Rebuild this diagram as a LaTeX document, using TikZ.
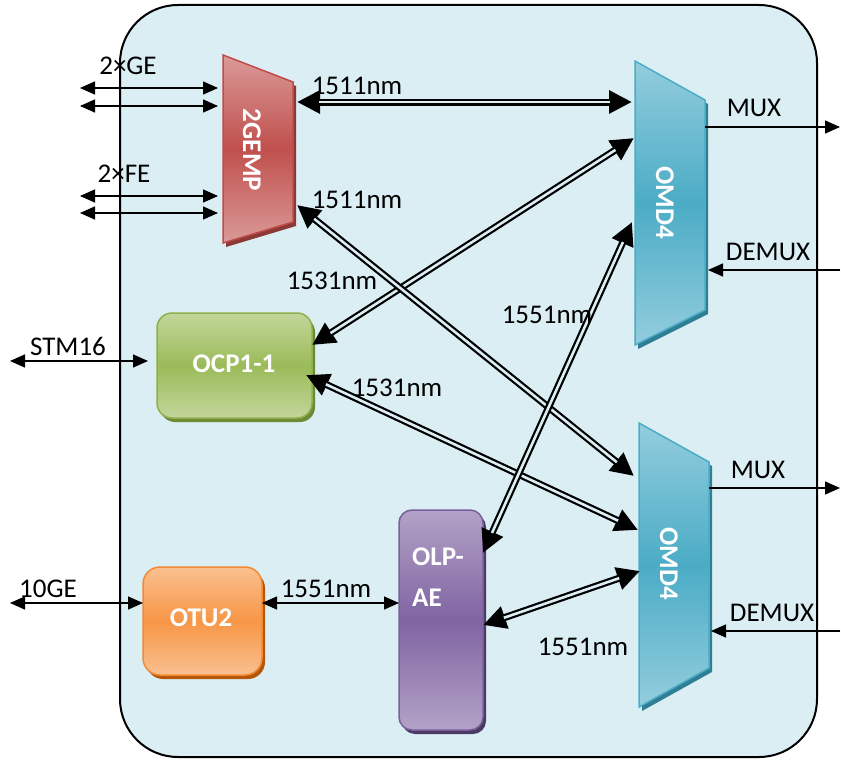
\documentclass[tikz,border=0pt]{standalone}
\usepackage{fontspec}
\setmainfont{Carlito}
\usetikzlibrary{arrows.meta}
\definecolor{bgblue}{HTML}{DBEEF4}
\definecolor{gemplight}{HTML}{DA9A98}
\definecolor{gempmid}{HTML}{C0504D}
\definecolor{gempborder}{HTML}{BE4B48}
\definecolor{gempshadow}{HTML}{8C3836}
\definecolor{omdlight}{HTML}{93CDDD}
\definecolor{omdmid}{HTML}{4BACC6}
\definecolor{omdborder}{HTML}{4BACC6}
\definecolor{omdshadow}{HTML}{2F7F94}
\definecolor{ocplight}{HTML}{C3D69B}
\definecolor{ocpmid}{HTML}{9BBB59}
\definecolor{ocpborder}{HTML}{8FB04C}
\definecolor{ocpshadow}{HTML}{6E8A34}
\definecolor{otulight}{HTML}{FAC090}
\definecolor{otumid}{HTML}{F79646}
\definecolor{otuborder}{HTML}{F28A35}
\definecolor{otushadow}{HTML}{B65708}
\definecolor{olplight}{HTML}{B3A2C7}
\definecolor{olpmid}{HTML}{8064A2}
\definecolor{olpborder}{HTML}{7A5E9C}
\definecolor{olpshadow}{HTML}{4B3A63}
\tikzset{
  lbl/.style={font=\fontsize{27}{31}\selectfont, inner sep=0pt},
  blk/.style={font=\fontsize{27}{41}\selectfont\bfseries, text=white, inner sep=0pt},
  thinarr/.style={line width=1.5pt, {Triangle[length=15pt,width=13pt]}-{Triangle[length=15pt,width=13pt]}},
  onearr/.style={line width=1.5pt, -{Triangle[length=15pt,width=13pt]}},
  dblout/.style={line width=7pt, {Triangle[length=23pt,width=22pt]}-{Triangle[length=23pt,width=22pt]}},
  dblin/.style={line width=2.6pt, draw=bgblue, shorten <=22pt, shorten >=22pt},
}
\newcommand\dblconn[2]{\draw[dblout] (#1) -- (#2); \draw[dblin] (#1) -- (#2);}
\begin{document}
\begin{tikzpicture}[x=1pt,y=-1pt]
\useasboundingbox (0,0) rectangle (841,760);
% background panel
\draw[line width=2pt, fill=bgblue, rounded corners=58pt] (120,5) rectangle (817,757);

% 2GEMP
\fill[gempshadow] (226,59) -- (296,86) -- (296,226) -- (226,247) -- cycle;
\path[draw=gempborder, line width=1.5pt, top color=gemplight, bottom color=gemplight, middle color=gempmid]
  (223,55) -- (293,82) -- (293,222) -- (223,243) -- cycle;
\node[blk, rotate=-90] (gemp) at (252,150) {2GEMP};

% OMD4 top
\fill[omdshadow] (638,65) -- (708,104) -- (708,314) -- (638,349) -- cycle;
\path[draw=omdborder, line width=1.5pt, top color=omdlight, bottom color=omdlight, middle color=omdmid]
  (635,61) -- (705,100) -- (705,310) -- (635,345) -- cycle;
\node[blk, rotate=-90] (omdA) at (665,203) {OMD4};

% OMD4 bottom
\fill[omdshadow] (642,427) -- (712,466) -- (712,672) -- (642,711) -- cycle;
\path[draw=omdborder, line width=1.5pt, top color=omdlight, bottom color=omdlight, middle color=omdmid]
  (639,423) -- (709,462) -- (709,668) -- (639,707) -- cycle;
\node[blk, rotate=-90] (omdB) at (669,564) {OMD4};

% OCP1-1
\fill[ocpshadow, rounded corners=15pt] (160,317) rectangle (315,422);
\path[draw=ocpborder, line width=1.5pt, rounded corners=15pt, top color=ocplight, bottom color=ocplight, middle color=ocpmid]
  (157,313) rectangle (312,418);
\node[blk] (ocp) at (234,364) {OCP1-1};

% OTU2
\fill[otushadow, rounded corners=17pt] (146,571) rectangle (265,679);
\path[draw=otuborder, line width=1.5pt, rounded corners=17pt, top color=otulight, bottom color=otulight, middle color=otumid]
  (143,567) rectangle (262,675);
\node[blk] (otu) at (201,618) {OTU2};

% OLP-AE
\fill[olpshadow, rounded corners=13pt] (402,514) rectangle (486,734);
\path[draw=olpborder, line width=1.5pt, rounded corners=13pt, top color=olplight, bottom color=olplight, middle color=olpmid]
  (399,510) rectangle (483,730);
\node[blk, align=left, anchor=north west] (olp) at (412,548) {OLP-\\AE};

% connector end points
\coordinate (ge1a) at (80,88);   \coordinate (ge1b) at (218,88);
\coordinate (ge2a) at (80,106);  \coordinate (ge2b) at (218,106);
\coordinate (fe1a) at (80,196);  \coordinate (fe1b) at (218,196);
\coordinate (fe2a) at (80,213);  \coordinate (fe2b) at (218,213);
\coordinate (stma) at (10,361);  \coordinate (stmb) at (148,361);
\coordinate (tgea) at (10,603);  \coordinate (tgeb) at (143,603);
\coordinate (otur) at (262,603); \coordinate (olpl) at (399,603);
\coordinate (muxA) at (705,127); \coordinate (muxAo) at (840,127);
\coordinate (dmxAo) at (840,270); \coordinate (dmxA) at (708,270);
\coordinate (muxB) at (709,488); \coordinate (muxBo) at (840,488);
\coordinate (dmxBo) at (840,631); \coordinate (dmxB) at (711,631);

\coordinate (gempr1) at (297,102); \coordinate (omdAl1) at (632,102);
\coordinate (gempr2) at (297,205); \coordinate (omdBl1) at (634,476);
\coordinate (ocpr1) at (312,345);  \coordinate (omdAl2) at (634,138);
\coordinate (ocpr2) at (306,375);  \coordinate (omdBl2) at (638,530);
\coordinate (olpr1) at (483,553);  \coordinate (omdAl3) at (632,222);
\coordinate (olpr2) at (483,625);  \coordinate (omdBl3) at (640,571);

% thin connectors
\draw[thinarr] (ge1a) -- (ge1b);
\draw[thinarr] (ge2a) -- (ge2b);
\draw[thinarr] (fe1a) -- (fe1b);
\draw[thinarr] (fe2a) -- (fe2b);
\draw[thinarr] (stma) -- (stmb);
\draw[thinarr] (tgea) -- (tgeb);
\draw[thinarr] (otur) -- (olpl);
\draw[onearr] (muxA) -- (muxAo);
\draw[onearr] (dmxAo) -- (dmxA);
\draw[onearr] (muxB) -- (muxBo);
\draw[onearr] (dmxBo) -- (dmxB);

% double connectors
\dblconn{gempr1}{omdAl1}
\dblconn{ocpr1}{omdAl2}
\dblconn{ocpr2}{omdBl2}
\dblconn{olpr2}{omdBl3}
\dblconn{gempr2}{omdBl1}
\dblconn{olpr1}{omdAl3}

% labels
\node[lbl] (lge) at (128,66) {2×GE};
\node[lbl] (lfe) at (124,174) {2×FE};
\node[lbl] (lstm) at (68,346) {STM16};
\node[lbl] (ltge) at (48,589) {10GE};
\node[lbl] (l1) at (357,86) {1511nm};
\node[lbl] (l2) at (357,200) {1511nm};
\node[lbl] (l3) at (332,281) {1531nm};
\node[lbl] (l4) at (547,315) {1551nm};
\node[lbl] (l5) at (397,388) {1531nm};
\node[lbl] (l6) at (583,647) {1551nm};
\node[lbl] (l7) at (326,589) {1551nm};
\node[lbl] (lmuxA) at (754,108) {MUX};
\node[lbl] (ldmxA) at (768,252) {DEMUX};
\node[lbl] (lmuxB) at (758,470) {MUX};
\node[lbl] (ldmxB) at (772,613) {DEMUX};
\end{tikzpicture}
\end{document}
